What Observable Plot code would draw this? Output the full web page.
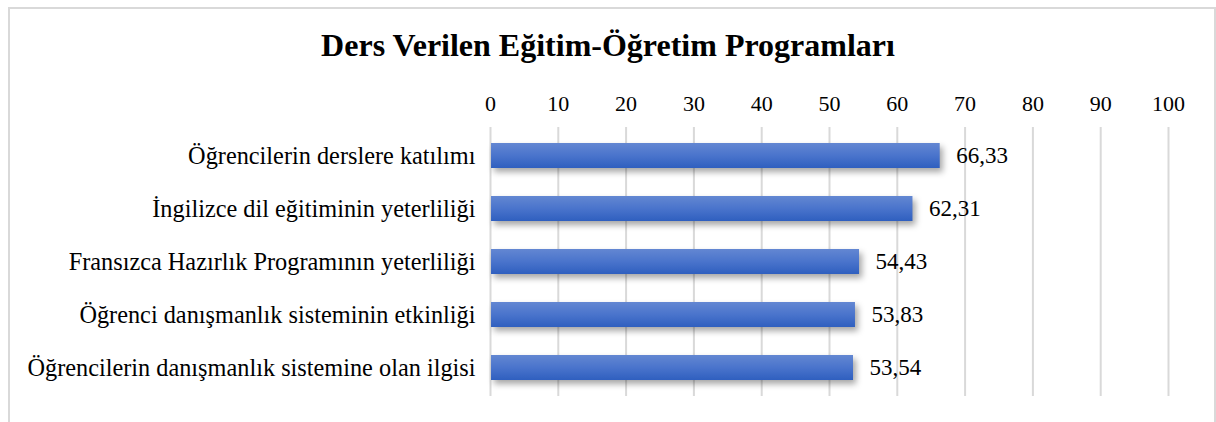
<!DOCTYPE html>
<html>
<head>
<meta charset="utf-8">
<script src="https://cdn.jsdelivr.net/npm/d3@7"></script>
<script src="https://cdn.jsdelivr.net/npm/@observablehq/plot@0.6"></script>
<style>
  html, body { margin: 0; padding: 0; background: #fff; }
  #wrap { position: relative; width: 1216px; height: 422px; overflow: hidden; }
  #frame { position: absolute; left: 8px; top: 7px; width: 1208px; height: 430px; border: 2px solid #d9d9d9; box-sizing: border-box; }
  #title { position: absolute; left: 0; width: 1216px; top: 27px; text-align: center;
           font-family: "Liberation Serif", "Times New Roman", serif; font-weight: bold; font-size: 32px; color: #000; }
  #chart { position: absolute; left: 0; top: 0; }
  #chart g[aria-label="bar"] { filter: drop-shadow(3px 4px 3px rgba(0,0,0,0.35)); }
</style>
</head>
<body>
<div id="wrap">
  <div id="frame"></div>
  <div id="title">Ders Verilen Eğitim-Öğretim Programları</div>
  <div id="chart"></div>
</div>
<script>
const categories = [
  "Öğrencilerin derslere katılımı",
  "İngilizce dil eğitiminin yeterliliği",
  "Fransızca Hazırlık Programının yeterliliği",
  "Öğrenci danışmanlık sisteminin etkinliği",
  "Öğrencilerin danışmanlık sistemine olan ilgisi"
];
const values = [66.33, 62.31, 54.43, 53.83, 53.54];
const xTicks = [0, 10, 20, 30, 40, 50, 60, 70, 80, 90, 100];

const data = categories.map((c, i) => ({category: c, value: values[i]}));
const fmt = v => v.toFixed(2).replace(".", ",");

const chart = Plot.plot({
  width: 1216,
  height: 422,
  marginLeft: 490,
  marginRight: 48,
  marginTop: 127,
  marginBottom: 26,
  style: {fontFamily: "'Liberation Serif', 'Times New Roman', serif", fontSize: "22px", color: "#000", background: "transparent"},
  x: {domain: [0, 100], axis: null},
  y: {domain: categories, paddingInner: 0.52, paddingOuter: 0.26, axis: null},
  marks: [
    Plot.ruleX(xTicks, {stroke: "#d9d9d9", strokeWidth: 2}),
    Plot.axisX({anchor: "top", ticks: xTicks, tickSize: 0, tickPadding: 17, fontSize: 22, label: null, tickFormat: d => String(d)}),
    Plot.axisY({anchor: "left", tickSize: 0, tickPadding: 15, fontSize: 24.3, label: null}),
    Plot.barX(data, {x1: 0.15, x2: "value", y: "category", fill: "url(#barGrad)"}),
    Plot.text(data, {x: "value", y: "category", text: d => fmt(d.value), textAnchor: "start", dx: 16, fontSize: 23, fill: "#000"})
  ]
});

const ns = "http://www.w3.org/2000/svg";
const defs = document.createElementNS(ns, "defs");
defs.innerHTML = `<linearGradient id="barGrad" x1="0" y1="0" x2="0" y2="1">
  <stop offset="0" stop-color="#6387d2"/>
  <stop offset="0.5" stop-color="#4a74cc"/>
  <stop offset="1" stop-color="#2f5fbf"/>
</linearGradient>`;
chart.insertBefore(defs, chart.firstChild);
document.getElementById("chart").appendChild(chart);
</script>
</body>
</html>
